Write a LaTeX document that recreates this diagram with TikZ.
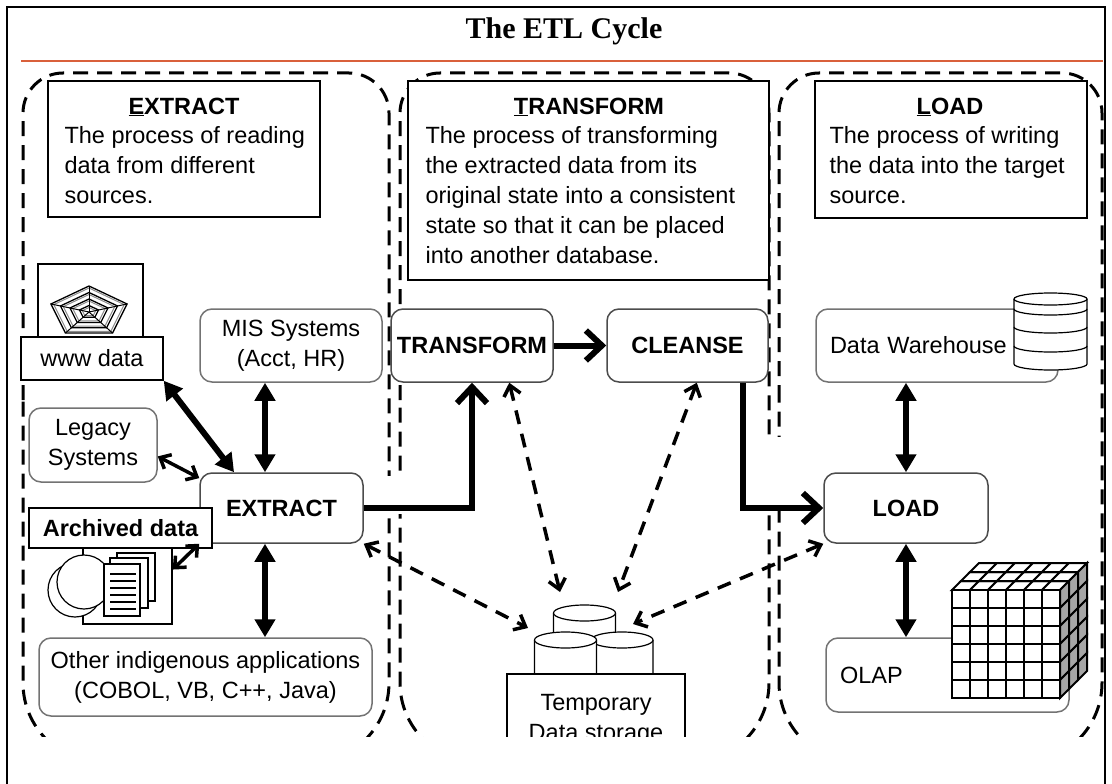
\documentclass[tikz,border=0pt]{standalone}
\usepackage{fontspec}
\setmainfont{Liberation Sans}
\newfontfamily\headserif{Liberation Serif}
\usetikzlibrary{arrows.meta}

\definecolor{headrule}{HTML}{D9603B}
\newcommand\bodysize{\fontsize{23.5}{30}\selectfont}

% dashed outline of one stage: left edge, right edge
\newcommand\stageoutline[2]{%
  \draw[stage] (#1,400) -- (#1,113) .. controls (#1,91) and ({#1+18},73) .. ({#1+40},73)
    -- ({#2-40},73) .. controls ({#2-18},73) and (#2,91) .. (#2,113)
    -- (#2,683) .. controls (#2,727) and ({#2-36},763) .. ({#2-80},763)
    -- ({#1+80},763) .. controls ({#1+36},763) and (#1,727) .. (#1,683) -- cycle;}

% drum: centre x, top y, x radius, y radius, height
\newcommand\drum[5]{%
  \filldraw[fill=white, line width=1.2pt] ({#1-#3},#2) -- ({#1-#3},{#2+#5})
    arc[start angle=180, end angle=0, x radius=#3, y radius=#4] -- ({#1+#3},#2);
  \filldraw[fill=white, line width=1.2pt] (#1,#2) ellipse[x radius=#3, y radius=#4];}

\tikzset{
  stage/.style={line width=3pt, dash pattern=on 15pt off 9pt},
  descbox/.style={draw, line width=1.5pt, fill=white, inner sep=0pt},
  plainbox/.style={draw, line width=1.5pt, fill=white, inner sep=0pt, align=center, font=\bodysize},
  roundbox/.style={draw=black!55, line width=1.5pt, fill=white, rounded corners=12pt,
    inner sep=0pt, align=center, font=\bodysize},
  stepbox/.style={roundbox, draw=black!70, font=\bodysize\bfseries},
  bidir/.style={line width=6pt, {Triangle[length=18pt,width=20pt]}-{Triangle[length=18pt,width=20pt]}},
  linkarrow/.style={line width=3.5pt,
    {Straight Barb[length=9pt,width=16pt]}-{Straight Barb[length=9pt,width=16pt]}},
  flow/.style={line width=6pt, -{Straight Barb[length=16pt,width=30pt]}},
  dataflow/.style={line width=3.5pt, dash pattern=on 14pt off 10pt,
    {Straight Barb[length=10pt,width=17pt]}-{Straight Barb[length=10pt,width=17pt]}},
}

\begin{document}
\begin{tikzpicture}[x=1pt, y=-1pt]
  \useasboundingbox (0,0) rectangle (1112,784);

  % frame and heading
  \draw[line width=2.5pt] (7,784) -- (7,7) -- (1105,7) -- (1105,784);
  \node[anchor=base, font=\headserif\bfseries\fontsize{30}{32}\selectfont] (title) at (564,39) {The ETL Cycle};
  \draw[headrule, line width=1.5pt] (21,61) -- (1103,61);

  \begin{scope}
    \clip (0,62) rectangle (1112,736);

    % the three stages
    \stageoutline{23}{389}
    \stageoutline{400}{769}
    \stageoutline{779}{1102}
    % breaks in the outlines
    \fill[white] (382,476) rectangle (407,514);
    \fill[white] (762,437) rectangle (786,510);

    % stage descriptions (body text is set on its last baseline)
    \node[descbox, minimum width=272pt, minimum height=136pt] (exdesc) at (184,149) {};
    \node[anchor=base, font=\bodysize\bfseries] (exhead) at (184,114) {\underline{E}XTRACT};
    \node[anchor=base west, align=left, font=\bodysize] (extext) at (61,203)
      {The process of reading\\data from different\\sources.};

    \node[descbox, minimum width=361pt, minimum height=199pt] (trdesc) at (588.5,180.5) {};
    \node[anchor=base, font=\bodysize\bfseries] (trhead) at (589,114) {\underline{T}RANSFORM};
    \node[anchor=base west, align=left, font=\bodysize] (trtext) at (422,263)
      {The process of transforming\\the extracted data from its\\original state into a consistent\\state so that it can be placed\\into another database.};

    \node[descbox, minimum width=272pt, minimum height=137pt] (lddesc) at (951,149.5) {};
    \node[anchor=base, font=\bodysize\bfseries] (ldhead) at (950,114) {\underline{L}OAD};
    \node[anchor=base west, align=left, font=\bodysize] (ldtext) at (826,203)
      {The process of writing\\the data into the target\\source.};

    % extract: sources
    \node[descbox, minimum width=105pt, minimum height=73pt] (wwwicon) at (90.5,300.5) {};
    \begin{scope}[shift={(89,312)}]
      \foreach \k in {1,0.75,0.5,0.25} {
        \draw[black!45, line width=1pt] (-90:{40*\k-3} and {26*\k-2})
          \foreach \a in {-18,54,126,198} { -- (\a:{40*\k-3} and {26*\k-2}) } -- cycle;
        \draw[line width=1.3pt] (-90:{40*\k} and {26*\k})
          \foreach \a in {-18,54,126,198} { -- (\a:{40*\k} and {26*\k}) } -- cycle;
      }
      \foreach \a in {-90,-18,54,126,198}
        \draw[line width=1pt] (0,0) -- (\a:40 and 26);
    \end{scope}
    \node[plainbox, minimum width=142pt, minimum height=43pt] (www) at (92,358.5) {www data};

    \node[roundbox, minimum width=182pt, minimum height=73pt] (mis) at (291,345.5) {MIS Systems\\(Acct, HR)};
    \node[roundbox, minimum width=128pt, minimum height=74pt] (legacy) at (93,445) {Legacy\\Systems};
    \node[stepbox, minimum width=163pt, minimum height=70pt] (extract) at (281.5,508) {EXTRACT};

    \node[descbox, minimum width=89pt, minimum height=76pt] (arcicon) at (127.5,586) {};
    \filldraw[fill=white, line width=1.2pt] (75,590) circle[radius=27];
    \filldraw[fill=white, line width=1.2pt] (84,582) circle[radius=27];
    \filldraw[fill=white, line width=1.5pt] (117,553) rectangle (155,601);
    \filldraw[fill=white, line width=1.5pt] (110,558) rectangle (148,608);
    \filldraw[fill=white, line width=1.5pt] (104,564) rectangle (140,616);
    \foreach \y in {574,581,...,609}
      \draw[line width=1.2pt] (110,\y) -- (136,\y);
    \node[plainbox, font=\bodysize\bfseries, minimum width=183pt, minimum height=40pt] (archived) at (120.5,528) {Archived data};

    \node[roundbox, minimum width=333pt, minimum height=78pt] (other) at (205.5,677)
      {Other indigenous applications\\(COBOL, VB, C++, Java)};

    % transform
    \node[stepbox, minimum width=162pt, minimum height=73pt] (transform) at (472,345.5) {TRANSFORM};
    \node[stepbox, minimum width=161pt, minimum height=73pt] (cleanse) at (687.5,345.5) {CLEANSE};

    % temporary storage
    \drum{584.5}{613}{31}{8}{50}
    \drum{622}{640}{31}{8}{40}
    \drum{565.5}{640}{31}{8}{40}
    \node[plainbox, anchor=north, minimum width=178pt, minimum height=92pt] (tmp) at (596,673) {Temporary\\Data storage};
    \coordinate (tmpw) at (528,628);
    \coordinate (tmpnw) at (560,592);
    \coordinate (tmpne) at (618,592);
    \coordinate (tmpe) at (633,624);

    % load: targets
    \node[roundbox, align=left, text width=214pt, inner xsep=14pt, minimum height=73pt] (dw) at (937,345.5) {Data Warehouse};
    \drum{1050.5}{299}{36.5}{6}{65}
    \foreach \y in {309,327,346}
      \draw[line width=1.2pt] (1014,\y) arc[start angle=180, end angle=0, x radius=36.5, y radius=6];
    \node[stepbox, minimum width=164pt, minimum height=70pt] (load) at (906,508) {LOAD};
    \node[roundbox, align=left, text width=215pt, inner xsep=14pt, minimum height=74pt] (olap) at (947.5,675) {OLAP};

    % olap cube
    \begin{scope}[line width=2pt]
      \foreach \k in {0,1,2} \foreach \i in {0,...,5}
        \filldraw[fill=white] ({952+18*\i+9*\k},{590-9*\k}) -- ++(18,0) -- ++(9,-9) -- ++(-18,0) -- cycle;
      \foreach \k in {0,1,2} \foreach \j in {0,...,5}
        \filldraw[fill=black!35] ({1060+9*\k},{590+18*\j-9*\k}) -- ++(9,-9) -- ++(0,18) -- ++(-9,9) -- cycle;
      \foreach \i in {0,...,5} \foreach \j in {0,...,5}
        \filldraw[fill=white] ({952+18*\i},{590+18*\j}) rectangle ++(18,18);
    \end{scope}

    % connectors
    \coordinate (exline) at (265,0);
    \draw[bidir] (exline |- mis.south) -- (exline |- extract.north);
    \draw[bidir] (exline |- extract.south) -- (exline |- other.north);
    \draw[bidir] (www.south east) -- (extract.143);
    \draw[linkarrow] (legacy.-10) -- (extract.160);
    \draw[linkarrow] (arcicon.20) -- (extract.south west);

    \draw[flow] (extract.east) -| (transform.south);
    \draw[flow] (transform.east) -- (cleanse.west);
    \coordinate (drop) at (743,0);
    \draw[flow] (drop |- cleanse.south) |- (load.west);

    \draw[bidir] (load.north) -- (load.north |- dw.south);
    \draw[bidir] (load.south) -- (load.south |- olap.north);

    \draw[dataflow] (extract.south east) -- (tmpw);
    \draw[dataflow] (transform.-45) -- (tmpnw);
    \draw[dataflow] (cleanse.-76) -- (tmpne);
    \draw[dataflow] (load.south west) -- (tmpe);
  \end{scope}
\end{tikzpicture}
\end{document}
